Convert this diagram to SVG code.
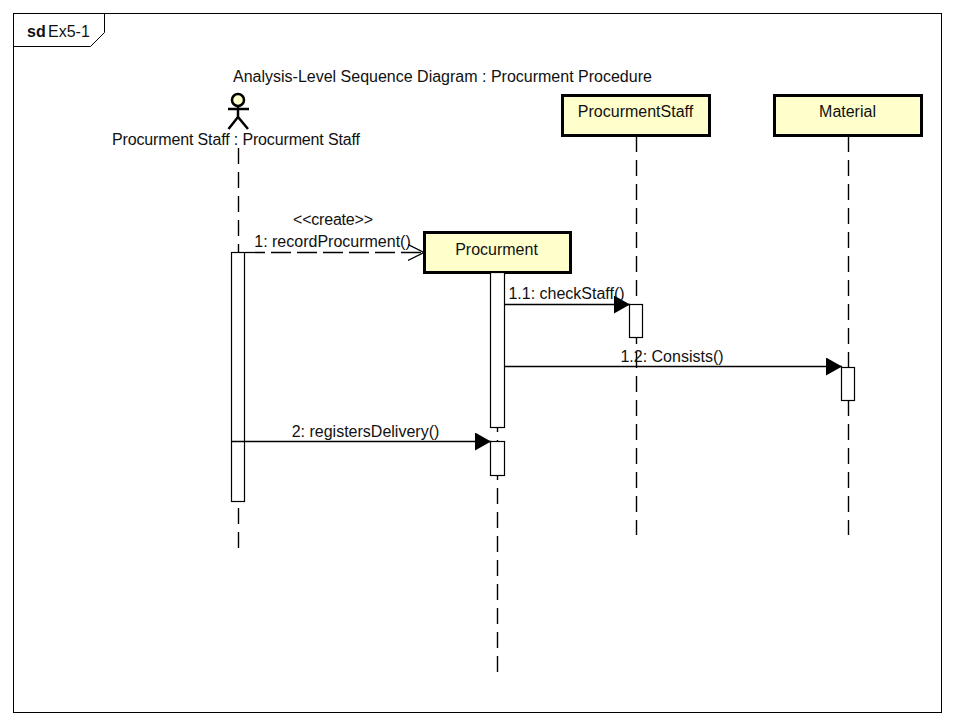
<svg xmlns="http://www.w3.org/2000/svg" width="954" height="725" viewBox="0 0 954 725">
<style>
text{font-family:"Liberation Sans",Arial,sans-serif;font-size:16px;fill:#111}
.m{text-anchor:middle}
.obj{fill:#ffffcc;stroke:#000;stroke-width:3}
.act{fill:#fff;stroke:#000;stroke-width:1.200}
.life{fill:none;stroke:#000;stroke-width:1.400;stroke-dasharray:16 8}
.msg{fill:none;stroke:#000;stroke-width:1.300}
</style>
<defs>
<marker id="solid" markerUnits="userSpaceOnUse" markerWidth="18" markerHeight="20" refX="16" refY="9" orient="auto"><path d="M0 0L16 9L0 18Z" fill="#000"/></marker>
<marker id="open" markerUnits="userSpaceOnUse" markerWidth="18" markerHeight="20" refX="16" refY="9" orient="auto"><path d="M0 1L16 9L0 17" fill="none" stroke="#000" stroke-width="1.300"/></marker>
</defs>
<rect width="954" height="725" fill="#fff"/>
<g id="frame">
<rect x="13.500" y="13.500" width="928" height="699" fill="none" stroke="#000"/>
<path d="M13.500 46.500H90.500L104.500 32.500V13.500" fill="none" stroke="#000"/>
<text x="27" y="36.500" style="font-weight:bold">sd</text><text x="48" y="36.500">Ex5-1</text>
</g>
<text id="title" x="233" y="82">Analysis-Level Sequence Diagram : Procurment Procedure</text>
<g id="actor">
<path class="life" d="M238.500 148V548"/>
<circle cx="238" cy="100" r="6" fill="#ffffcc" stroke="#000" stroke-width="2.500"/>
<path d="M238 106V118M228 109H249M228.500 129L238 117L248 129" fill="none" stroke="#000" stroke-width="2.500"/>
<text x="112" y="145" textLength="248">Procurment Staff : Procurment Staff</text>
<rect class="act" x="231.500" y="252.500" width="13" height="249"/>
</g>
<g id="procurment">
<path class="life" d="M497.500 272V672"/>
<rect class="obj" x="424.500" y="232.500" width="146" height="40"/>
<text class="m" x="496.500" y="255">Procurment</text>
<rect class="act" x="490.500" y="272.500" width="14" height="155"/>
<rect class="act" x="490.500" y="441.500" width="14" height="34"/>
</g>
<g id="staff">
<path class="life" d="M636.500 136V535"/>
<rect class="obj" x="562.500" y="95.500" width="147" height="40"/>
<text class="m" x="635.500" y="117">ProcurmentStaff</text>
<rect class="act" x="629.500" y="304.500" width="13" height="33"/>
</g>
<g id="material">
<path class="life" d="M848.500 136V535"/>
<rect class="obj" x="774.500" y="95.500" width="147" height="40"/>
<text class="m" x="847.500" y="117">Material</text>
<rect class="act" x="841.500" y="367.500" width="13" height="33"/>
</g>
<g id="connectors">
<path class="msg" d="M245 252.500H424" stroke-dasharray="20 6" marker-end="url(#open)"/>
<path class="msg" d="M505 304.500H630" marker-end="url(#solid)"/>
<path class="msg" d="M505 366.500H842" marker-end="url(#solid)"/>
<path class="msg" d="M232 441.500H491" marker-end="url(#solid)"/>
</g>
<g id="labels">
<text x="293" y="225" textLength="80">&lt;&lt;create&gt;&gt;</text>
<text class="m" x="332.500" y="247">1: recordProcurment()</text>
<text class="m" x="566.500" y="299">1.1: checkStaff()</text>
<text class="m" x="672" y="362">1.2: Consists()</text>
<text class="m" x="365.500" y="437">2: registersDelivery()</text>
</g>
</svg>
